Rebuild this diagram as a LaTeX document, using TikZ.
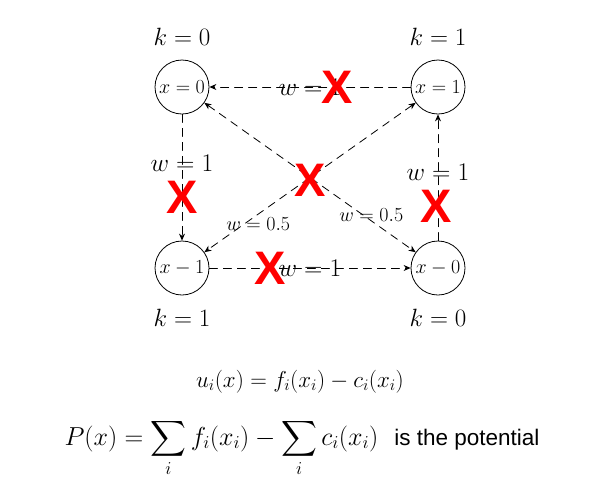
\documentclass[tikz,border=0pt]{standalone}
\usepackage{fix-cm}
\usepackage{exscale}
\usepackage{fontspec}
\newfontfamily\arialfont{Liberation Sans}
\usetikzlibrary{arrows.meta}

\tikzset{
  state/.style={draw, circle, minimum size=54pt, inner sep=0pt, line width=0.8pt,
                font=\fontsize{20}{22}\selectfont},
  link/.style={line width=0.8pt, dash pattern=on 8pt off 6pt, -{Stealth[length=7pt,width=6pt]}},
  wlabel/.style={font=\fontsize{25.5}{28}\selectfont, inner sep=1pt},
  wsmall/.style={font=\fontsize{20}{22}\selectfont, inner sep=1pt},
  klabel/.style={font=\fontsize{25}{28}\selectfont},
  cross/.style={text=red, font=\arialfont\bfseries\fontsize{47}{47}\selectfont, inner sep=0pt},
  formula/.style={font=\fontsize{23}{26}\selectfont, anchor=base}
}

\begin{document}
\begin{tikzpicture}[x=1pt, y=-1pt, line cap=round]
\useasboundingbox (0,0) rectangle (591,491);

% ---------- the four states ----------
\node[state] (s00) at (182,87)  {$x=0$};
\node[state] (s01) at (438,87)  {$x=1$};
\node[state] (s10) at (182,268) {$x-1$};
\node[state] (s11) at (438,268) {$x-0$};

\node[klabel] (k00) at (182,37)  {$k=0$};
\node[klabel] (k01) at (438,37)  {$k=1$};
\node[klabel] (k10) at (182,318) {$k=1$};
\node[klabel] (k11) at (438,318) {$k=0$};

% ---------- moves ----------
\draw[link] (s01) -- node[wlabel, pos=0.5] {$w=1$} (s00);
\draw[link] (s00) -- node[wlabel, pos=0.39] {$w=1$} (s10);
\draw[link] (s11) -- node[wlabel, pos=0.54] {$w=1$} (s01);
\draw[link] (s10) -- node[wlabel, pos=0.5] {$w=1$} (s11);
\draw[link, {Stealth[length=7pt,width=6pt]}-{Stealth[length=7pt,width=6pt]}]
  (s00) -- node[wsmall, pos=0.79, yshift=6pt] {$w=0.5$} (s11);
\draw[link, {Stealth[length=7pt,width=6pt]}-{Stealth[length=7pt,width=6pt]}]
  (s01) -- node[wsmall, pos=0.745, yshift=-10pt] {$w=0.5$} (s10);

% ---------- crossed out ----------
\node[cross] (x1) at (337,87)  {X};
\node[cross] (x2) at (182,197) {X};
\node[cross] (x3) at (310,180) {X};
\node[cross] (x4) at (436,206) {X};
\node[cross] (x5) at (270,268) {X};

% ---------- formulas ----------
\node[formula] (util) at (300,387) {$u_i(x) = f_i(x_i) - c_i(x_i)$};
\node[formula, font=\fontsize{26}{30}\selectfont] (pot) at (302,445)
  {$\displaystyle P(x) = \sum_i f_i(x_i) - \sum_i c_i(x_i)$\hspace{16pt}{\arialfont\fontsize{22.5}{26}\selectfont is the potential}};

\end{tikzpicture}
\end{document}
